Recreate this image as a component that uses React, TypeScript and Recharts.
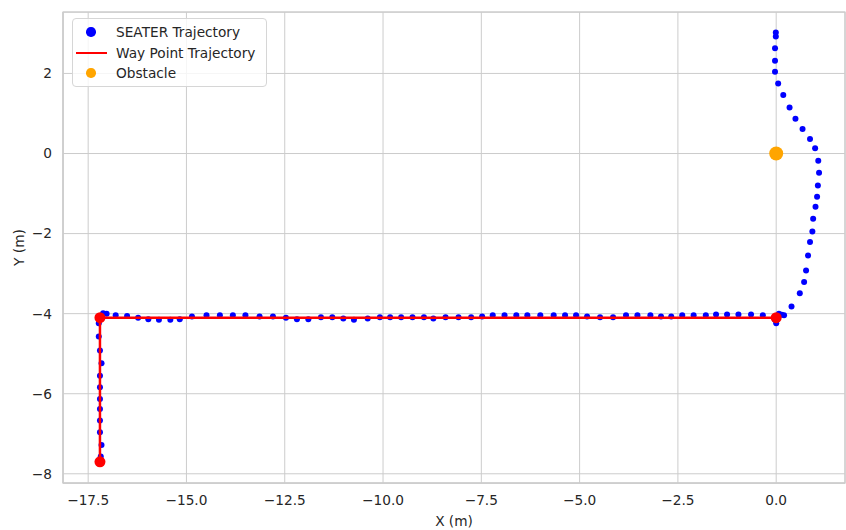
import {
  CartesianGrid,
  ReferenceArea,
  Scatter,
  ScatterChart,
  XAxis,
  YAxis,
} from 'recharts'

// SEATER 实测轨迹（从顶部出发，绕过障碍物，再沿航路点走）
const seaterX = [
  -0.01, -0.01, -0.03, -0.03, -0.03, 0.05, 0.18, 0.34, 0.49, 0.67, 0.86, 0.99,
  1.07, 1.09, 1.06, 1.04, 1.0, 0.94, 0.92, 0.86, 0.81, 0.76, 0.71, 0.6, 0.39,
  0.2, 0.14, 0.07, 0.0, -0.03,
  -0.34, -0.64, -0.96, -1.25, -1.53, -1.79, -2.1, -2.39, -2.67, -2.93, -3.2,
  -3.53, -3.82, -4.15, -4.48, -4.81, -5.09, -5.37, -5.66, -6.0, -6.33, -6.61,
  -6.91, -7.21, -7.48, -7.76,
  -8.08, -8.41, -8.72, -8.96, -9.25, -9.54, -9.82, -10.08, -10.39, -10.74,
  -11.01, -11.29, -11.58, -11.9, -12.19, -12.47, -12.8, -13.14, -13.5, -13.82,
  -14.15, -14.49, -14.86, -15.17,
  -15.41, -15.7, -15.97, -16.23, -16.51, -16.8, -17.03, -17.12,
  -17.23, -17.23, -17.2, -17.16, -17.2, -17.2, -17.2, -17.2, -17.2, -17.2,
  -17.16, -17.18,
]
const seaterY = [
  3.02, 2.92, 2.63, 2.32, 2.04, 1.75, 1.46, 1.15, 0.87, 0.61, 0.36, 0.13,
  -0.18, -0.48, -0.8, -1.08, -1.33, -1.63, -1.95, -2.21, -2.55, -2.92, -3.21,
  -3.49, -3.82, -4.04, -4.03, -4.0, -4.24, -4.15,
  -4.04, -4.02, -4.02, -4.02, -4.02, -4.04, -4.04, -4.04, -4.07, -4.07, -4.04,
  -4.04, -4.04, -4.09, -4.09, -4.07, -4.04, -4.04, -4.04, -4.04, -4.04, -4.04,
  -4.04, -4.04, -4.07, -4.09,
  -4.09, -4.09, -4.12, -4.09, -4.09, -4.09, -4.09, -4.09, -4.12, -4.15, -4.12,
  -4.09, -4.09, -4.14, -4.14, -4.1, -4.07, -4.07, -4.04, -4.04, -4.04, -4.04,
  -4.07, -4.14,
  -4.15, -4.15, -4.14, -4.1, -4.06, -4.04, -4.0, -3.99,
  -4.24, -4.57, -4.92, -5.24, -5.55, -5.84, -6.13, -6.38, -6.67, -6.96, -7.28,
  -7.57,
]

// 航路点
const waypointX = [-17.2, -17.2, 0]
const waypointY = [-7.7, -4.1, -4.1]

// 障碍物
const obstacleX = [0]
const obstacleY = [0]

const xTicks = [-17.5, -15, -12.5, -10, -7.5, -5, -2.5, 0]
const yTicks = [-8, -6, -4, -2, 0, 2]

const X_DOMAIN: [number, number] = [-18.14, 1.75]
const Y_DOMAIN: [number, number] = [-8.23, 3.535]

const BLUE = '#0000ff'
const RED = '#ff0000'
const ORANGE = '#ffa500'
const GRID = '#cccccc'
const INK = '#262626'
const FONT = '"DejaVu Sans", sans-serif'
const FS = 13.7

const toPoints = (xs: number[], ys: number[]) =>
  xs.map((x, i) => ({ x, y: ys[i] }))

const seaterData = toPoints(seaterX, seaterY)
const waypointData = toPoints(waypointX, waypointY)
const obstacleData = toPoints(obstacleX, obstacleY)

const minus = (s: string) => s.replace('-', '\u2212')

function dot(r: number, fill: string) {
  return (props: any) => (
    <circle cx={props.cx} cy={props.cy} r={r} fill={fill} />
  )
}

// 图例：位置对齐原图左上角
function LegendBox() {
  const items = [
    { label: 'SEATER Trajectory', kind: 'dot', color: BLUE, cy: 13 },
    { label: 'Way Point Trajectory', kind: 'line', color: RED, cy: 34 },
    { label: 'Obstacle', kind: 'dot', color: ORANGE, cy: 54 },
  ]
  return (
    <div
      style={{
        position: 'absolute',
        left: 72,
        top: 18,
        width: 195,
        height: 69,
        boxSizing: 'border-box',
        border: '1px solid #d6d6d6',
        borderRadius: 4,
        background: 'rgba(255,255,255,0.8)',
        fontFamily: FONT,
        fontSize: FS,
        color: INK,
      }}
    >
      {items.map((it) => (
        <div key={it.label}>
          {it.kind === 'dot' ? (
            <span
              style={{
                position: 'absolute',
                left: 18 - 4.7,
                top: it.cy - 4.7,
                width: 9.4,
                height: 9.4,
                borderRadius: '50%',
                background: it.color,
              }}
            />
          ) : (
            <span
              style={{
                position: 'absolute',
                left: 3,
                top: it.cy - 1.25,
                width: 31,
                height: 2.5,
                background: it.color,
              }}
            />
          )}
          <span
            style={{
              position: 'absolute',
              left: 43,
              top: it.cy - 9,
              lineHeight: '18px',
              whiteSpace: 'nowrap',
            }}
          >
            {it.label}
          </span>
        </div>
      ))}
    </div>
  )
}

export default function App() {
  return (
    <div
      style={{
        position: 'absolute',
        left: 0,
        top: 0,
        width: 846,
        height: 530,
        background: '#fff',
      }}
    >
      <ScatterChart
        width={846}
        height={530}
        margin={{ top: 12, right: 1, left: 0, bottom: 0 }}
      >
        <CartesianGrid stroke={GRID} strokeWidth={1} />
        <XAxis
          type="number"
          dataKey="x"
          domain={X_DOMAIN}
          ticks={xTicks}
          allowDataOverflow
          height={47}
          tickLine={false}
          tickSize={0}
          tickMargin={12}
          axisLine={{ stroke: GRID, strokeWidth: 1.25 }}
          tick={{ fill: INK, fontSize: FS, fontFamily: FONT }}
          tickFormatter={(v: number) => minus(v.toFixed(1))}
          label={{
            value: 'X (m)',
            position: 'insideBottom',
            offset: 4,
            fill: INK,
            fontSize: FS,
            fontFamily: FONT,
          }}
        />
        <YAxis
          type="number"
          dataKey="y"
          domain={Y_DOMAIN}
          ticks={yTicks}
          allowDataOverflow
          width={63}
          tickLine={false}
          tickSize={0}
          tickMargin={11}
          axisLine={{ stroke: GRID, strokeWidth: 1.25 }}
          tick={{ fill: INK, fontSize: FS, fontFamily: FONT }}
          tickFormatter={(v: number) => minus(String(v))}
          label={{
            value: 'Y (m)',
            angle: -90,
            position: 'insideLeft',
            offset: 19,
            fill: INK,
            fontSize: FS,
            fontFamily: FONT,
            style: { textAnchor: 'middle' },
          }}
        />
        <ReferenceArea
          x1={X_DOMAIN[0]}
          x2={X_DOMAIN[1]}
          y1={Y_DOMAIN[0]}
          y2={Y_DOMAIN[1]}
          fill="none"
          stroke={GRID}
          strokeWidth={1.25}
          ifOverflow="visible"
        />
        <Scatter
          name="SEATER Trajectory"
          data={seaterData}
          shape={dot(3, BLUE)}
          isAnimationActive={false}
        />
        <Scatter
          name="Way Point Trajectory"
          data={waypointData}
          line={{ stroke: RED, strokeWidth: 2.5 }}
          lineType="joint"
          shape={dot(5.5, RED)}
          isAnimationActive={false}
        />
        <Scatter
          name="Obstacle"
          data={obstacleData}
          shape={dot(7, ORANGE)}
          isAnimationActive={false}
        />
      </ScatterChart>
      <LegendBox />
    </div>
  )
}
